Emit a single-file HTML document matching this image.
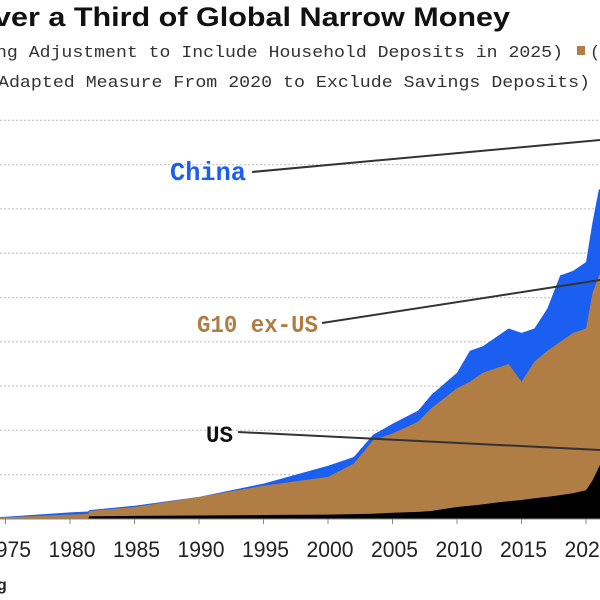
<!DOCTYPE html>
<html><head><meta charset="utf-8"><style>
body{margin:0;background:#fff;width:600px;height:600px;overflow:hidden}
svg{display:block}
</style></head><body>
<svg id="chart" width="600" height="600" xmlns="http://www.w3.org/2000/svg">
<text x="-6" y="26" textLength="516" lengthAdjust="spacingAndGlyphs" font-family="Liberation Sans, sans-serif" font-weight="bold" font-size="27" fill="#111">ver a Third of Global Narrow Money</text>
<text x="-4" y="57" textLength="567" lengthAdjust="spacingAndGlyphs" font-family="Liberation Mono, monospace" font-size="17" fill="#333">ng Adjustment to Include Household Deposits in 2025)</text>
<rect x="577" y="46" width="8" height="9" fill="#b07d45"/>
<text x="590" y="57" font-family="Liberation Mono, monospace" font-size="17" fill="#333">(</text>
<text x="-2" y="87" textLength="592" lengthAdjust="spacingAndGlyphs" font-family="Liberation Mono, monospace" font-size="17" fill="#333">Adapted Measure From 2020 to Exclude Savings Deposits)</text>
<g id="grid"></g>
<g id="areas"></g>
<g id="axis"></g>
<g id="labels">
<text x="170" y="180" textLength="76" lengthAdjust="spacingAndGlyphs" font-family="Liberation Mono, monospace" font-weight="bold" font-size="26" fill="#1a5ff0">China</text>
<line x1="252" y1="172" x2="600" y2="140" stroke="#333" stroke-width="2"/>
<text x="197" y="332" textLength="121" lengthAdjust="spacingAndGlyphs" font-family="Liberation Mono, monospace" font-weight="bold" font-size="24" fill="#b07d45">G10 ex-US</text>
<line x1="322" y1="323" x2="600" y2="280" stroke="#333" stroke-width="2"/>
<text x="206" y="442" textLength="27" lengthAdjust="spacingAndGlyphs" font-family="Liberation Mono, monospace" font-weight="bold" font-size="23" fill="#111">US</text>
<line x1="238" y1="432" x2="600" y2="450" stroke="#333" stroke-width="2"/>
</g>
<text x="-3" y="590" font-family="Liberation Sans, sans-serif" font-weight="bold" font-size="16" fill="#222">g</text>
</svg>
<script>
const years = [1970,1975,1980,1981.4,1981.5,1985,1990,1995,2000,2002,2003.5,2005,2007,2008,2010,2011,2012,2013,2014,2015,2016,2017,2018,2019,2020,2020.5,2021,2021.25];
const totalVals = [0,0.05,0.15,0.17,0.2,0.3,0.5,0.8,1.2,1.4,1.9,2.15,2.45,2.8,3.3,3.8,3.9,4.1,4.3,4.2,4.3,4.75,5.5,5.6,5.8,6.7,7.45,7.4];
const g10Vals = [0,0.04,0.1,0.12,0.18,0.27,0.5,0.75,0.95,1.25,1.78,1.93,2.2,2.5,2.95,3.1,3.3,3.4,3.5,3.1,3.55,3.8,4.0,4.2,4.3,5.1,5.5,5.6];
const usVals = [0,0,0,0,0.06,0.07,0.08,0.09,0.1,0.11,0.12,0.14,0.16,0.18,0.27,0.3,0.33,0.37,0.4,0.43,0.47,0.5,0.54,0.58,0.65,0.87,1.17,1.33];
const gridVals = [1,2,3,4,5,6,7,8,9];
const tickYears = [1975,1980,1985,1990,1995,2000,2005,2010,2015,2020];
const tickLabels = ["1975","1980","1985","1990","1995","2000","2005","2010","2015","2020"];

const NS="http://www.w3.org/2000/svg";
const xS = y => 328 + (y-2000)*12.9;
const yS = v => 519 - v*44.3;
function mk(tag, attrs, parent){const e=document.createElementNS(NS,tag);for(const k in attrs)e.setAttribute(k,attrs[k]);parent.appendChild(e);return e;}
const grid=document.getElementById('grid'), areas=document.getElementById('areas'), axis=document.getElementById('axis');
gridVals.forEach(v=>{
  const l=mk('line',{x1:0,x2:600,y1:yS(v),y2:yS(v),stroke:'#ccc','stroke-width':1.3,'stroke-dasharray':'2 2'},grid);
  
  
});
function area(vals, color, name){
  let d='M'+xS(years[0])+','+yS(0);
  years.forEach((y,i)=>{d+=' L'+xS(y).toFixed(1)+','+yS(vals[i]).toFixed(1);});
  d+=' L'+xS(years[years.length-1])+','+yS(0)+' Z';
  const p=mk('path',{d:d,fill:color},areas);
  
  
}
area(totalVals,'#1a5ff0','china-area');
area(g10Vals,'#b07d45','g10-ex-us-area');
area(usVals,'#000','us-area');
const base=mk('line',{x1:0,x2:600,y1:519,y2:519,stroke:'#888','stroke-width':1},axis);


tickYears.forEach((y,i)=>{
  const t=mk('line',{x1:xS(y),x2:xS(y),y1:519,y2:524,stroke:'#888','stroke-width':1},axis);
  
  
  const tx=mk('text',{x:xS(y)+2,y:557,'text-anchor':'middle','font-family':'Liberation Sans, sans-serif','font-size':'22',fill:'#222',textLength:'47',lengthAdjust:'spacingAndGlyphs'},axis);
  tx.textContent=tickLabels[i];
  
  
});
</script>
</body></html>
